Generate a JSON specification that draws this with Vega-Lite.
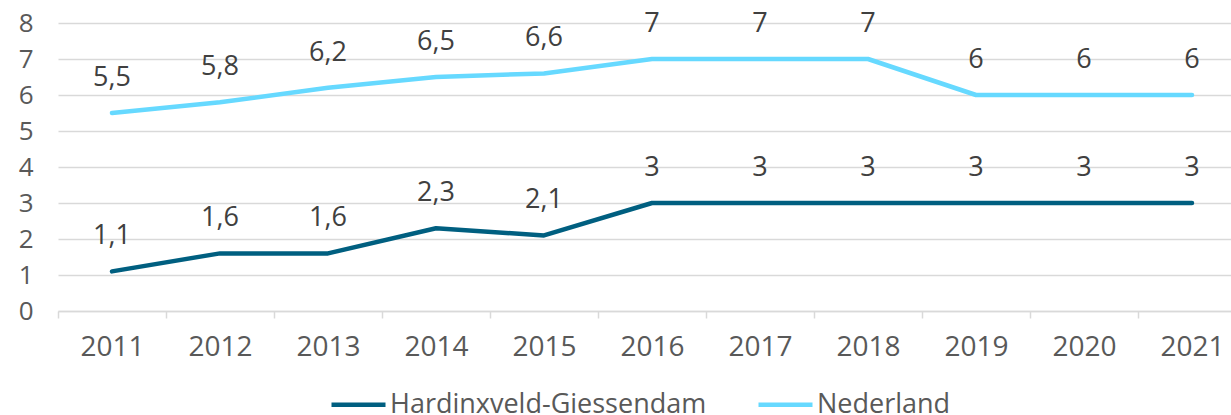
{
  "$schema": "https://vega.github.io/schema/vega-lite/v6.json",
  "width": 1173,
  "height": 288,
  "autosize": {"type": "none"},
  "padding": {"left": 58, "top": 23, "right": 0, "bottom": 104},
  "config": {
    "view": {"stroke": null},
    "font": "Open Sans",
    "locale": {"number": {"decimal": ",", "thousands": ".", "grouping": [3], "currency": ["€", ""]}}
  },
  "data": {
    "values": [
      {"jaar": "2011", "regio": "Hardinxveld-Giessendam", "waarde": 1.1},
      {"jaar": "2012", "regio": "Hardinxveld-Giessendam", "waarde": 1.6},
      {"jaar": "2013", "regio": "Hardinxveld-Giessendam", "waarde": 1.6},
      {"jaar": "2014", "regio": "Hardinxveld-Giessendam", "waarde": 2.3},
      {"jaar": "2015", "regio": "Hardinxveld-Giessendam", "waarde": 2.1},
      {"jaar": "2016", "regio": "Hardinxveld-Giessendam", "waarde": 3},
      {"jaar": "2017", "regio": "Hardinxveld-Giessendam", "waarde": 3},
      {"jaar": "2018", "regio": "Hardinxveld-Giessendam", "waarde": 3},
      {"jaar": "2019", "regio": "Hardinxveld-Giessendam", "waarde": 3},
      {"jaar": "2020", "regio": "Hardinxveld-Giessendam", "waarde": 3},
      {"jaar": "2021", "regio": "Hardinxveld-Giessendam", "waarde": 3},
      {"jaar": "2011", "regio": "Nederland", "waarde": 5.5},
      {"jaar": "2012", "regio": "Nederland", "waarde": 5.8},
      {"jaar": "2013", "regio": "Nederland", "waarde": 6.2},
      {"jaar": "2014", "regio": "Nederland", "waarde": 6.5},
      {"jaar": "2015", "regio": "Nederland", "waarde": 6.6},
      {"jaar": "2016", "regio": "Nederland", "waarde": 7},
      {"jaar": "2017", "regio": "Nederland", "waarde": 7},
      {"jaar": "2018", "regio": "Nederland", "waarde": 7},
      {"jaar": "2019", "regio": "Nederland", "waarde": 6},
      {"jaar": "2020", "regio": "Nederland", "waarde": 6},
      {"jaar": "2021", "regio": "Nederland", "waarde": 6}
    ]
  },
  "encoding": {
    "x": {
      "field": "jaar",
      "type": "ordinal",
      "scale": {"type": "band", "range": [0, 1188], "paddingInner": 0, "paddingOuter": 0},
      "axis": {
        "title": null,
        "labelAngle": 0,
        "labelFont": "Open Sans",
        "labelFontSize": 28,
        "labelColor": "#595959",
        "labelPadding": 15,
        "tickBand": "extent",
        "tickColor": "#d9d9d9",
        "tickSize": 7,
        "tickWidth": 1.5,
        "domainColor": "#d9d9d9",
        "domainWidth": 1.5,
        "grid": false
      }
    },
    "y": {
      "field": "waarde",
      "type": "quantitative",
      "scale": {"domain": [0, 8], "nice": false},
      "axis": {
        "title": null,
        "values": [0, 1, 2, 3, 4, 5, 6, 7, 8],
        "labelFont": "Open Sans",
        "labelFontSize": 26,
        "labelColor": "#595959",
        "labelPadding": 25,
        "ticks": false,
        "domain": false,
        "grid": true,
        "gridColor": "#d9d9d9",
        "gridWidth": 1.5
      }
    }
  },
  "layer": [
    {
      "mark": {"type": "line", "strokeWidth": 4.5, "strokeCap": "round", "strokeJoin": "round"},
      "encoding": {
        "color": {
          "field": "regio",
          "type": "nominal",
          "scale": {"domain": ["Hardinxveld-Giessendam", "Nederland"], "range": ["#005f80", "#66d9ff"]},
          "legend": {
            "title": null,
            "orient": "none",
            "direction": "horizontal",
            "legendX": 271,
            "legendY": 352,
            "symbolType": "stroke",
            "symbolSize": 2916,
            "symbolStrokeWidth": 4.5,
            "labelFont": "Open Sans",
            "labelFontSize": 27,
            "labelColor": "#595959",
            "labelOffset": 2,
            "labelLimit": 500,
            "columnPadding": 42
          }
        }
      }
    },
    {
      "mark": {"type": "text", "dy": -35, "baseline": "middle", "font": "Open Sans", "fontSize": 27, "color": "#404040"},
      "encoding": {
        "text": {"field": "waarde", "type": "quantitative", "format": "~g"},
        "detail": {"field": "regio"}
      }
    }
  ]
}
